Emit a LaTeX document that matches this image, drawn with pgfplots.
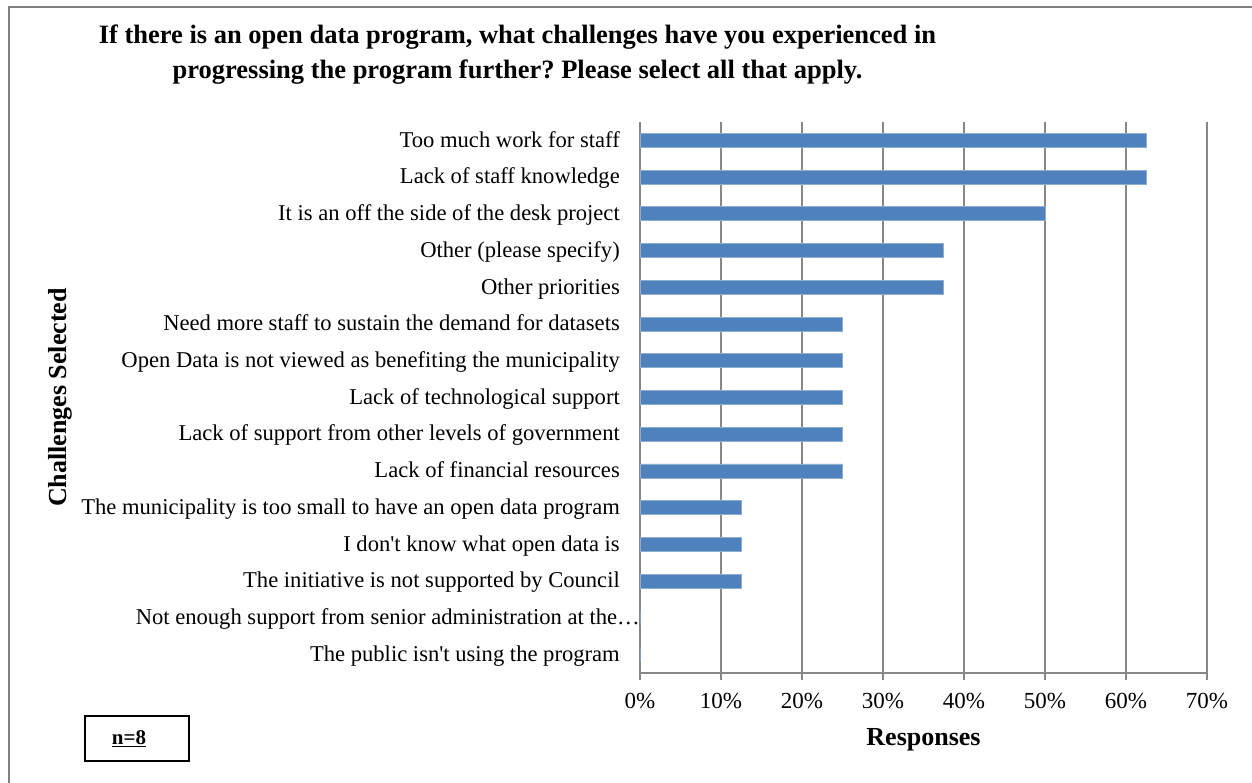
\documentclass[border=0pt]{standalone}
\usepackage{pgfplots}
\pgfplotsset{compat=1.18}
\usepackage{fontspec}
\setmainfont{Liberation Serif}
\frenchspacing
\definecolor{barblue}{HTML}{4F81BD}
\definecolor{gridgray}{HTML}{878787}
\definecolor{framegray}{HTML}{808080}
\begin{document}
\frenchspacing
\begin{tikzpicture}
\useasboundingbox (0pt,0pt) rectangle (1252pt,782pt);
\draw[line width=2.2pt, draw=framegray] (9pt,-20pt) -- (9pt,775pt) -- (1270pt,775pt);
\node[align=center, font=\bfseries\fontsize{26.5}{35}\selectfont] at (517.5pt,727pt)
  {If there is an open data program, what challenges have you experienced in\\
   progressing the program further? Please select all that apply.};
\begin{axis}[
  at={(640pt,109pt)}, anchor=south west,
  scale only axis, width=567pt, height=551pt,
  xbar, bar width=14pt,
  xmin=0, xmax=70, ymin=-0.5, ymax=14.5, y dir=reverse,
  axis lines=left,
  axis line style={-, draw=gridgray, line width=1.5pt},
  xmajorgrids,
  major grid style={draw=gridgray, line width=1.5pt},
  tick align=outside, major tick length=7pt,
  x tick style={draw=gridgray, line width=1.5pt},
  ytick style={draw=none},
  xtick={0,10,20,30,40,50,60,70},
  xticklabels={0\%,10\%,20\%,30\%,40\%,50\%,60\%,70\%},
  xticklabel style={font=\fontsize{23}{24}\selectfont, inner sep=0pt, yshift=-13pt},
  ytick={0,1,2,3,4,5,6,7,8,9,10,11,12,13,14},
  yticklabels={
    Too much work for staff,
    Lack of staff knowledge,
    It is an off the side of the desk project,
    Other (please specify),
    Other priorities,
    Need more staff to sustain the demand for datasets,
    Open Data is not viewed as benefiting the municipality,
    Lack of technological support,
    Lack of support from other levels of government,
    Lack of financial resources,
    The municipality is too small to have an open data program,
    I don\textquotesingle t know what open data is,
    The initiative is not supported by Council,
    Not enough support from senior administration at the…\hspace*{-20pt},
    The public isn\textquotesingle t using the program},
  yticklabel style={font=\fontsize{22.6}{24}\selectfont, inner sep=0pt, xshift=-13pt, yshift=-4pt,
    text height=0.75em, text depth=0.2em},
  xlabel={Responses},
  xlabel style={at={(axis description cs:0.5,-0.1216)}, anchor=center, font=\bfseries\fontsize{26}{28}\selectfont},
  ylabel={Challenges Selected},
  ylabel style={at={(axis description cs:-1.023,0.5)}, anchor=center, font=\bfseries\fontsize{26}{28}\selectfont},
  clip=false,
]
\addplot[fill=barblue, draw=barblue!65!white, line width=0.8pt] coordinates {
  (62.5,0) (62.5,1) (50,2) (37.5,3) (37.5,4) (25,5) (25,6) (25,7)
  (25,8) (25,9) (12.5,10) (12.5,11) (12.5,12) (0,13) (0,14)};
\end{axis}
\draw[line width=1.5pt] (85pt,21pt) rectangle (189pt,66pt);
\node[font=\bfseries\fontsize{21}{22}\selectfont] at (129pt,43pt) {\underline{n=8}};
\end{tikzpicture}
\end{document}
